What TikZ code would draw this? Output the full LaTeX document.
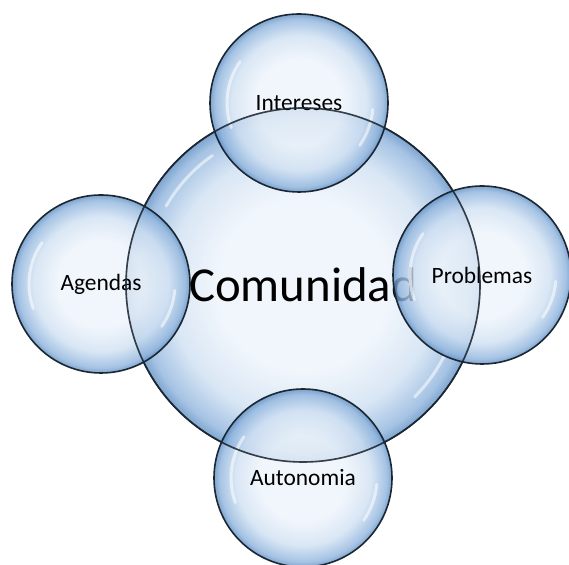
\documentclass[tikz,border=0pt]{standalone}
\usepackage{fontspec}
\setmainfont{Carlito}
\usepackage{tikz}
\usetikzlibrary{shapes}

\definecolor{bubin}{HTML}{EEF4FB}
\definecolor{bubmid}{HTML}{CFE0F2}
\definecolor{bubout}{HTML}{8FB4DD}
\definecolor{bubedge}{HTML}{5F8EC3}
\definecolor{bubline}{HTML}{1B2733}

\pgfdeclareradialshading{bubbleshade}{\pgfpointorigin}{color(0bp)=(bubin);
  color(12bp)=(bubin); color(19bp)=(bubmid); color(23.5bp)=(bubout);
  color(25bp)=(bubedge); color(50bp)=(bubedge)}

\tikzset{
  bubble/.style={circle, shade, shading=bubbleshade, fill opacity=0.8,
    text opacity=1, draw=bubline, line width=1.6bp, inner sep=0pt,
    minimum size=178bp, font=\fontsize{23.5}{28}\selectfont},
  gloss/.style={draw=white, opacity=0.55, line width=3bp, line cap=round}
}

\begin{document}
\begin{tikzpicture}[x=1bp, y=1bp]
\useasboundingbox (0,0) rectangle (569,565);
\node[bubble, minimum size=354bp, font=\fontsize{49}{58}\selectfont]
  (comunidad) at (303,280) {Comunidad};
\draw[gloss] (comunidad.center) ++(125:158) arc[start angle=125, end angle=150, radius=158]
             (comunidad.center) ++(-25:158) arc[start angle=-25, end angle=-45, radius=158];
\foreach \nm/\x/\y/\txt in {intereses/299/462/Intereses, agendas/101/281/Agendas,
                            problemas/482/290/Problemas, autonomia/303/87/Autonomia}
{
  \node[bubble] (\nm) at (\x,\y) {\txt};
  \draw[gloss] (\nm.center) ++(145:72) arc[start angle=145, end angle=200, radius=72]
               (\nm.center) ++(-5:74) arc[start angle=-5, end angle=-35, radius=74];
}
% outline of the centre bubble seen through the others
\draw[bubline, line width=1.6bp, opacity=0.85] (comunidad.center) circle[radius=177];
\end{tikzpicture}
\end{document}
